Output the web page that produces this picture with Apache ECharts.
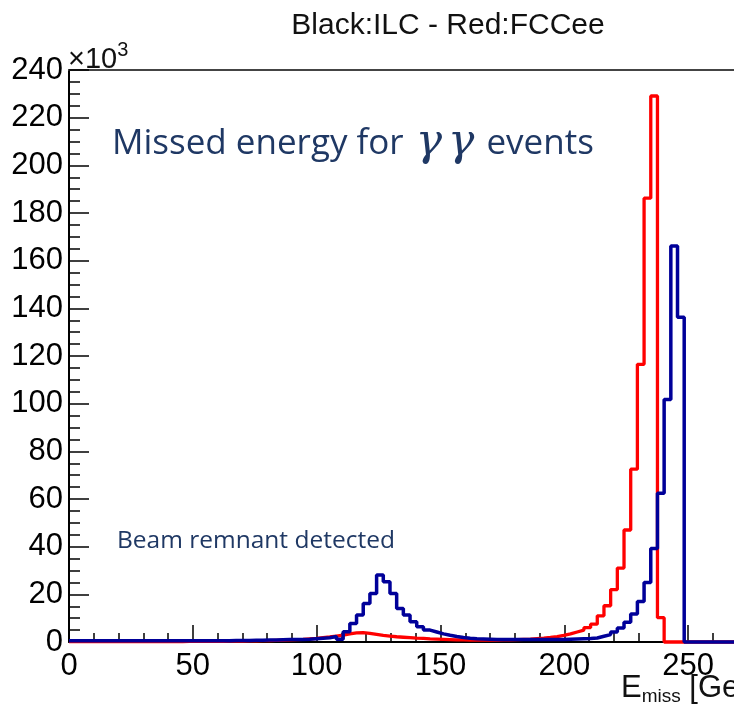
<!DOCTYPE html>
<html>
<head>
<meta charset="utf-8">
<script src="https://cdn.jsdelivr.net/npm/echarts@6/dist/echarts.min.js"></script>
<style>html,body{margin:0;padding:0;background:#fff}#c{width:734px;height:710px}</style>
</head>
<body>
<div id="c"></div>
<script>
// Histogram binning (GeV)
var binLow = 0;
var binHigh = 270;
var nBins = 100;

// tick labels (y in units of 10^3)
var yTicks = [0, 20, 40, 60, 80, 100, 120, 140, 160, 180, 200, 220, 240];
var xTicks = [0, 50, 100, 150, 200, 250];

// FCCee (red), counts in 10^3 per bin
var fccee = [
  0.2,0.2,0.2,0.2,0.2,0.2,0.2,0.2,0.2,0.2,
  0.2,0.2,0.2,0.2,0.2,0.2,0.2,0.3,0.3,0.3,
  0.3,0.3,0.3,0.4,0.4,0.4,0.5,0.5,0.6,0.6,
  0.7,0.8,0.9,1.0,1.1,1.3,1.5,1.8,2.1,2.5,
  2.9,3.4,3.8,3.9,3.6,3.2,2.8,2.5,2.2,2.0,
  1.8,1.6,1.5,1.3,1.2,1.1,1.0,0.9,0.9,0.8,
  0.8,0.8,0.8,0.8,0.9,0.9,1.0,1.1,1.2,1.4,
  1.6,1.9,2.3,2.8,3.4,4.2,5.0,6.0,7.5,11.0,
  15.2,22.0,31.0,47.0,72.5,116.5,186.2,229.1,10.2,0,
  0,0,0,0,0,0,0,0,0,0
];

// ILC (blue), counts in 10^3 per bin
var ilc = [
  0.5,0.5,0.5,0.5,0.5,0.5,0.5,0.5,0.5,0.5,
  0.5,0.5,0.5,0.5,0.5,0.5,0.5,0.5,0.5,0.5,
  0.5,0.5,0.5,0.5,0.6,0.6,0.6,0.7,0.7,0.8,
  0.8,0.9,1.0,1.0,1.1,1.2,1.4,1.6,1.8,2.3,
  1.2,4.3,7.8,11.3,16.2,20.4,28.1,25.3,20.4,14.1,
  11.3,8.5,6.4,5.0,4.2,3.4,2.8,2.3,1.9,1.6,
  1.4,1.3,1.2,1.1,1.0,1.0,1.0,1.0,1.0,1.0,
  1.0,1.0,1.1,1.1,1.2,1.3,1.4,1.5,1.7,2.4,
  3.1,4.2,5.9,8.3,11.8,17.0,25.0,39.2,62.4,101.8,
  166.2,136.3,0,0,0,0,0,0,0,0
];

var titleText = 'Black:ILC - Red:FCCee';
var noteText = 'Missed energy for ';
var noteGamma = 'γ';
var noteText2 = ' events';
var remnantText = 'Beam remnant detected';

function histPoints(vals) {
  var w = (binHigh - binLow) / nBins;
  var pts = [];
  for (var i = 0; i < vals.length; i++) pts.push([binLow + i * w, vals[i]]);
  pts.push([binHigh, vals[vals.length - 1]]);
  return pts;
}

var chart = echarts.init(document.getElementById('c'), null, {renderer: 'canvas'});
var font = 'Liberation Sans, Arial, sans-serif';
var gl = 69, gt = 70, gw = 743, gh = 572;

chart.setOption({
  animation: false,
  backgroundColor: '#fff',
  grid: {left: gl, top: gt, width: gw, height: gh, containLabel: false, outerBoundsMode: 'none'},
  xAxis: [{
    type: 'value', min: 0, max: 300, interval: 50,
    axisLine: {show: true, onZero: false, lineStyle: {color: '#000', width: 2}},
    axisTick: {show: true, inside: true, length: 17, lineStyle: {color: '#000', width: 1.5}},
    minorTick: {show: true, splitNumber: 5, length: 9, lineStyle: {color: '#000', width: 1.5}},
    splitLine: {show: false},
    axisLabel: {show: true, fontFamily: font, fontSize: 31, color: '#000', margin: 9,
      showMaxLabel: false,
      formatter: function (v) { return xTicks.indexOf(v) >= 0 ? String(v) : ''; }}
  }, {
    type: 'value', position: 'top', min: 0, max: 300,
    axisLine: {show: true, onZero: false, lineStyle: {color: '#444', width: 2}},
    axisTick: {show: false}, axisLabel: {show: false}, splitLine: {show: false}
  }],
  yAxis: {
    type: 'value', min: 0, max: 240, interval: 20,
    axisLine: {show: true, onZero: false, lineStyle: {color: '#000', width: 2}},
    axisTick: {show: true, inside: true, length: 20, lineStyle: {color: '#000', width: 1.5}},
    minorTick: {show: true, splitNumber: 4, length: 11, lineStyle: {color: '#000', width: 1.5}},
    splitLine: {show: false},
    axisLabel: {show: true, fontFamily: font, fontSize: 31, color: '#000', margin: 6,
      formatter: function (v) { return yTicks.indexOf(v) >= 0 ? String(v) : ''; }}
  },
  series: [{
    name: 'FCCee', type: 'line', step: 'end', data: histPoints(fccee),
    showSymbol: false, symbol: 'none', clip: false,
    lineStyle: {color: '#ff0000', width: 3.3}, z: 3
  }, {
    name: 'ILC', type: 'line', step: 'end', data: histPoints(ilc),
    showSymbol: false, symbol: 'none', clip: false,
    lineStyle: {color: '#000099', width: 3.5}, z: 4
  }],
  graphic: [{
    type: 'text', x: 448, y: 11,
    style: {text: titleText, font: '30px ' + font, fill: '#111', textAlign: 'center'}
  }, {
    type: 'text', x: 68, y: 40,
    style: {
      text: '×10{sup|3}', font: '29px ' + font, fill: '#111',
      rich: {sup: {fontSize: 20, fontFamily: font, verticalAlign: 'top', padding: [0, 0, 20, 0]}}
    }
  }, {
    type: 'text', x: 112, y: 122,
    style: {
      text: noteText + '{g|' + noteGamma + '}{g|' + noteGamma + '}' + noteText2,
      font: '35px "Open Sans", sans-serif', fill: '#1f3864',
      rich: {g: {fontFamily: 'DejaVu Serif', fontStyle: 'italic', fontSize: 44, fill: '#1f3864', padding: [0, 3, 0, 3]}}
    }
  }, {
    type: 'text', x: 117, y: 529,
    style: {text: remnantText, font: '24.5px "Open Sans", sans-serif', fill: '#1f3864'}
  }, {
    type: 'text', x: 621, y: 671,
    style: {
      text: 'E{sub|miss} [GeV]', font: '31px ' + font, fill: '#111',
      rich: {sub: {fontSize: 19, fontFamily: font, padding: [16, 0, 0, 0]}}
    }
  }]
});
</script>
</body>
</html>
